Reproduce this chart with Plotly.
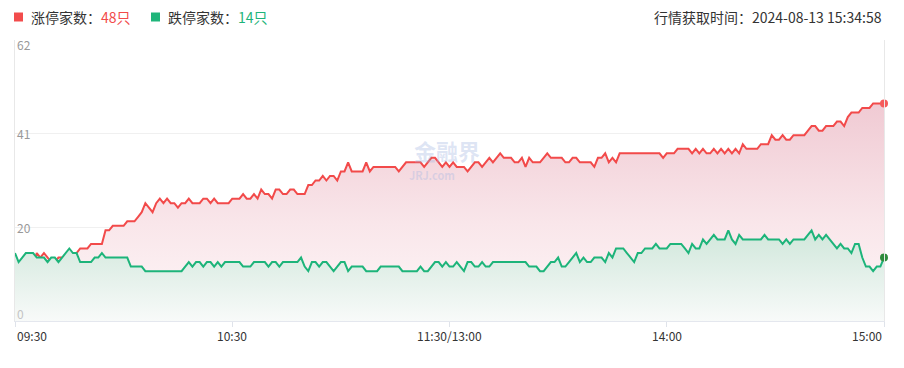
import plotly.graph_objects as go

# ---- data ----
red_up = [5, 7, 10, 14, 14, 12, 15, 14, 15, 14,
          13, 13, 14, 14, 14, 14, 14, 15, 16, 16,
          16, 17, 17, 17, 17, 20, 20, 21, 21, 21,
          21, 22, 22, 22, 23, 24, 26, 25, 24, 26,
          27, 26, 27, 26, 26, 25, 26, 26, 27, 26,
          26, 26, 27, 27, 26, 27, 26, 26, 26, 26,
          27, 27, 27, 28, 27, 27, 28, 27, 29, 28,
          28, 27, 29, 29, 28, 28, 29, 29, 28, 28,
          28, 30, 30, 31, 31, 32, 31, 32, 32, 31,
          33, 33, 35, 33, 33, 33, 33, 35, 33, 34,
          34, 34, 34, 34, 34, 34, 33, 34, 35, 35,
          35, 35, 35, 34, 35, 36, 36, 35, 34, 35,
          34, 35, 34, 34, 34, 33, 34, 35, 35, 34,
          35, 36, 35, 36, 37, 36, 36, 36, 35, 35,
          36, 34, 36, 35, 35, 35, 36, 37, 36, 36,
          36, 36, 35, 35, 36, 36, 35, 35, 35, 35,
          34, 36, 36, 37, 35, 36, 35, 37, 37, 37,
          37, 37, 37, 37, 37, 37, 37, 37, 37, 36,
          37, 37, 37, 38, 38, 38, 38, 37, 38, 37,
          38, 37, 37, 38, 37, 38, 37, 38, 37, 38,
          37, 39, 38, 38, 38, 38, 39, 39, 39, 41,
          40, 40, 41, 40, 40, 41, 41, 41, 41, 42,
          43, 43, 42, 42, 43, 43, 43, 44, 44, 43,
          45, 46, 46, 46, 47, 47, 47, 48, 48, 48, 48]

green_down = [15, 13, 14, 15, 15, 15, 14, 14, 14, 13,
              14, 14, 13, 14, 15, 16, 15, 15, 13, 13,
              13, 13, 14, 14, 15, 14, 14, 14, 14, 14,
              14, 14, 12, 12, 12, 12, 11, 11, 11, 11,
              11, 11, 11, 11, 11, 11, 11, 12, 13, 12,
              13, 13, 12, 13, 13, 12, 13, 12, 13, 13,
              13, 13, 13, 12, 12, 12, 13, 13, 13, 13,
              12, 13, 13, 12, 13, 13, 13, 13, 13, 14,
              12, 11, 13, 13, 12, 13, 13, 12, 11, 12,
              13, 13, 11, 12, 12, 12, 12, 11, 11, 11,
              11, 12, 12, 12, 12, 12, 12, 11, 11, 11,
              11, 11, 12, 11, 11, 12, 13, 13, 12, 13,
              12, 12, 13, 12, 11, 13, 13, 12, 12, 13,
              12, 12, 13, 13, 13, 13, 13, 13, 13, 13,
              13, 13, 12, 12, 12, 11, 11, 12, 13, 13,
              14, 12, 12, 13, 14, 15, 13, 14, 13, 13,
              14, 14, 14, 13, 15, 14, 16, 16, 16, 15,
              14, 13, 15, 15, 16, 16, 16, 17, 16, 16,
              16, 17, 17, 17, 17, 16, 15, 17, 16, 16,
              18, 17, 18, 19, 18, 18, 18, 20, 18, 17,
              19, 18, 18, 18, 18, 18, 18, 19, 18, 18,
              18, 18, 17, 18, 17, 18, 18, 18, 18, 19,
              20, 18, 19, 18, 19, 18, 17, 16, 17, 16,
              16, 15, 17, 17, 14, 12, 12, 11, 12, 12, 14]

# time categories: 09:30-11:30, 13:01-15:00
times = []
for m in range(9 * 60 + 30, 11 * 60 + 31):
    times.append(f"{m // 60:02d}:{m % 60:02d}")
for m in range(13 * 60 + 1, 15 * 60 + 1):
    times.append(f"{m // 60:02d}:{m % 60:02d}")

tick_cats = ["09:30", "10:30", "11:30", "14:00", "15:00"]
tick_text = ["09:30", "10:30", "11:30/13:00", "14:00", "15:00"]
y_max = 62
y_ticks = [0, y_max / 3, 2 * y_max / 3, y_max]
y_text = ["0", "20", "41", "62"]
fetch_time = "2024-08-13 15:34:58"

RED = "#f24a4a"
GREEN = "#1db47a"
FONT = "Noto Sans CJK SC, Noto Sans, sans-serif"

# plot area in px
L, R, T, B = 15, 884, 40, 321
W, H = 904, 368


def px(x):
    return (x - L) / (R - L)


def py(y):
    return (B - y) / (B - T)


fig = go.Figure()

fig.add_trace(go.Scatter(
    x=times, y=red_up, mode="lines",
    line=dict(color=RED, width=2),
    fill="tozeroy",
    fillgradient=dict(type="vertical",
                      colorscale=[[0, "rgb(254,247,248)"], [0.45, "rgb(249,230,234)"],
                                  [1, "rgb(240,202,211)"]],
                      start=0, stop=max(red_up)),
    hoverinfo="skip", showlegend=False,
))
fig.add_trace(go.Scatter(
    x=times, y=green_down, mode="lines",
    line=dict(color=GREEN, width=2),
    fill="tozeroy",
    fillgradient=dict(type="vertical",
                      colorscale=[[0, "rgb(248,250,249)"], [1, "rgb(208,231,219)"]],
                      start=0, stop=max(green_down)),
    hoverinfo="skip", showlegend=False,
))
fig.add_trace(go.Scatter(
    x=[times[-1]], y=[red_up[-1]], mode="markers",
    marker=dict(color="#f55a5a", size=8), cliponaxis=False,
    hoverinfo="skip", showlegend=False,
))
fig.add_trace(go.Scatter(
    x=[times[-1]], y=[green_down[-1]], mode="markers",
    marker=dict(color="#2e8b3c", size=8), cliponaxis=False,
    hoverinfo="skip", showlegend=False,
))

ann = []
# y labels
for v, t in zip(y_ticks, y_text):
    if v == y_max:
        ya, col, ys = "top", "#999999", 6
    elif v == 0:
        ya, col, ys = "bottom", "#c4c4c4", -3
    else:
        ya, col, ys = "middle", "#999999", 0
    ann.append(dict(xref="paper", yref="y", x=0, y=v, text=t, showarrow=False,
                    xanchor="left", yanchor=ya, xshift=0, yshift=ys,
                    font=dict(size=12, color=col, family=FONT)))
# x labels
for i, (c, t) in enumerate(zip(tick_cats, tick_text)):
    xa = "left" if i == 0 else ("right" if i == len(tick_cats) - 1 else "center")
    ann.append(dict(xref="x", yref="paper", x=c, y=py(335), text=t, showarrow=False,
                    xanchor=xa, yanchor="middle",
                    font=dict(size=12, color="#333333", family=FONT)))
# header legend
ann.append(dict(xref="paper", yref="paper", x=px(29), y=py(17), showarrow=False,
                xanchor="left", yanchor="middle",
                text=f"涨停家数：<span style='color:{RED}'>{red_up[-1]}只</span>",
                font=dict(size=14, color="#333333", family=FONT)))
ann.append(dict(xref="paper", yref="paper", x=px(166), y=py(17), showarrow=False,
                xanchor="left", yanchor="middle",
                text=f"跌停家数：<span style='color:{GREEN}'>{green_down[-1]}只</span>",
                font=dict(size=14, color="#333333", family=FONT)))
ann.append(dict(xref="paper", yref="paper", x=px(884), y=py(17), showarrow=False,
                xanchor="right", yanchor="middle",
                text=f"行情获取时间：{fetch_time}",
                font=dict(size=14, color="#333333", family=FONT)))
# watermark
ann.append(dict(xref="paper", yref="paper", x=px(447), y=py(150), showarrow=False,
                xanchor="center", yanchor="middle", text="<b>金融界</b>",
                font=dict(size=22, color="rgba(160,180,225,0.35)", family=FONT)))
ann.append(dict(xref="paper", yref="paper", x=px(432), y=py(175), showarrow=False,
                xanchor="center", yanchor="middle", text="<b>JRJ.com</b>",
                font=dict(size=11, color="rgba(160,180,225,0.35)", family=FONT)))

shapes = [
    dict(type="rect", xref="paper", yref="paper", x0=px(14), x1=px(23), y0=py(21.5), y1=py(12.5),
         fillcolor="#f24c4c", line=dict(width=0)),
    dict(type="rect", xref="paper", yref="paper", x0=px(151), x1=px(160), y0=py(21.5), y1=py(12.5),
         fillcolor="#1fb57a", line=dict(width=0)),
]

fig.update_layout(
    width=W, height=H,
    margin=dict(l=L, r=W - R, t=T, b=H - B),
    paper_bgcolor="white", plot_bgcolor="white",
    annotations=ann, shapes=shapes,
    font=dict(family=FONT),
    xaxis=dict(type="category", range=[0, len(times) - 1], showgrid=False,
               tickvals=tick_cats, showticklabels=False, ticks="outside",
               ticklen=5, tickcolor="#dfe3ea", tickwidth=1,
               showline=True, linecolor="#e4e7ee", linewidth=1, zeroline=False),
    yaxis=dict(range=[0, y_max], tickvals=y_ticks, showticklabels=False,
               showgrid=True, gridcolor="#f0f0f0", gridwidth=1, zeroline=False,
               showline=True, linecolor="#e8e8e8", mirror=True, ticks=""),
)

fig.write_html("out.html", config={"displayModeBar": False},
               post_script="document.body.style.margin='0';document.body.style.overflow='hidden';")
